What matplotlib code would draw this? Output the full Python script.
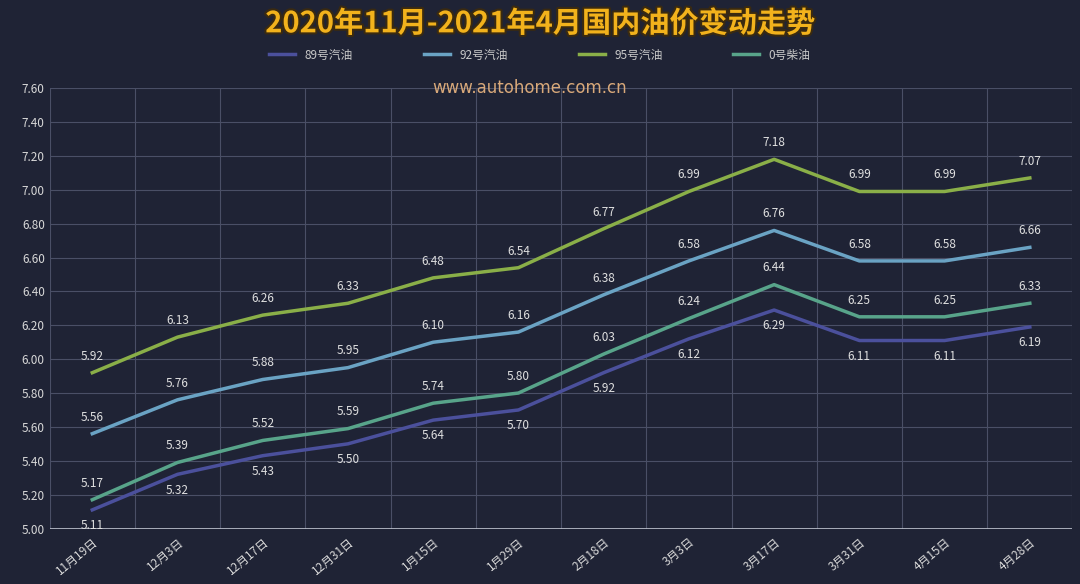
import matplotlib
matplotlib.use("Agg")
import matplotlib.pyplot as plt
import matplotlib.patheffects as pe

plt.rcParams['font.family'] = ['Noto Sans CJK SC', 'DejaVu Sans']

dates = ["11月19日","12月3日","12月17日","12月31日","1月15日","1月29日","2月18日","3月3日","3月17日","3月31日","4月15日","4月28日"]
p89 = [5.11,5.32,5.43,5.50,5.64,5.70,5.92,6.12,6.29,6.11,6.11,6.19]
p92 = [5.56,5.76,5.88,5.95,6.10,6.16,6.38,6.58,6.76,6.58,6.58,6.66]
p95 = [5.92,6.13,6.26,6.33,6.48,6.54,6.77,6.99,7.18,6.99,6.99,7.07]
p0 = [5.17,5.39,5.52,5.59,5.74,5.80,6.03,6.24,6.44,6.25,6.25,6.33]
names = ["89号汽油","92号汽油","95号汽油","0号柴油"]
colors = ["#4b509c","#6aa3c4","#8aaf48","#58a48a"]

bg = "#1f2335"
fig = plt.figure(figsize=(10.8,5.84), dpi=100, facecolor=bg)
ax = fig.add_axes([0.046,0.095,0.947,0.754], facecolor=bg)
x = list(range(len(dates)))
series = [p89,p92,p95,p0]
for s,c,n in zip(series,colors,names):
    ax.plot(x,s,color=c,lw=2.5,label=n)
for i in x:
    ax.text(i,p89[i]-0.055,f"{p89[i]:.2f}",color="#e0e0e0",fontsize=8.5,ha="center",va="top")
    for s in (p92,p95,p0):
        ax.text(i,s[i]+0.06,f"{s[i]:.2f}",color="#e0e0e0",fontsize=8.5,ha="center",va="bottom")
ax.set_xlim(-0.5,len(dates)-0.5)
ax.set_ylim(5.0,7.6)
ax.set_yticks([5.0+0.2*k for k in range(14)])
ax.set_yticklabels([f"{5.0+0.2*k:.2f}" for k in range(14)],color="#d8d8d8",fontsize=8.5)
ax.set_xticks(x)
ax.set_xticklabels(dates,rotation=40,ha="right",rotation_mode="anchor",color="#d8d8d8",fontsize=8.5)
ax.grid(False)
for v in [i+0.5 for i in range(-1,len(dates))]:
    ax.axvline(v,color="#4a4f66",lw=0.8,zorder=0)
for k in range(14):
    ax.axhline(5.0+0.2*k,color="#4a4f66",lw=0.8,zorder=0)
ax.axhline(5.0,color="#c0c4d0",lw=1.2)
for sp in ax.spines.values():
    sp.set_visible(False)
ax.tick_params(length=0,which="both")
ax.tick_params(axis="x",pad=5)
leg = fig.legend(loc="upper center",bbox_to_anchor=(0.5,0.935),ncol=4,frameon=False,fontsize=8.5,handlelength=2.2,columnspacing=6)
for t in leg.get_texts():
    t.set_color("#c8c8c8")
fig.text(0.5,0.96,"2020年11月-2021年4月国内油价变动走势",ha="center",va="center",fontsize=21,fontweight="bold",color="#f2b21c",
         path_effects=[pe.withStroke(linewidth=3,foreground="#3a2a10")])
fig.text(0.49,0.85,"www.autohome.com.cn",ha="center",va="center",fontsize=12,color="#d9a97a",family="DejaVu Sans")
fig.savefig("out.png",dpi=100,facecolor=bg)
